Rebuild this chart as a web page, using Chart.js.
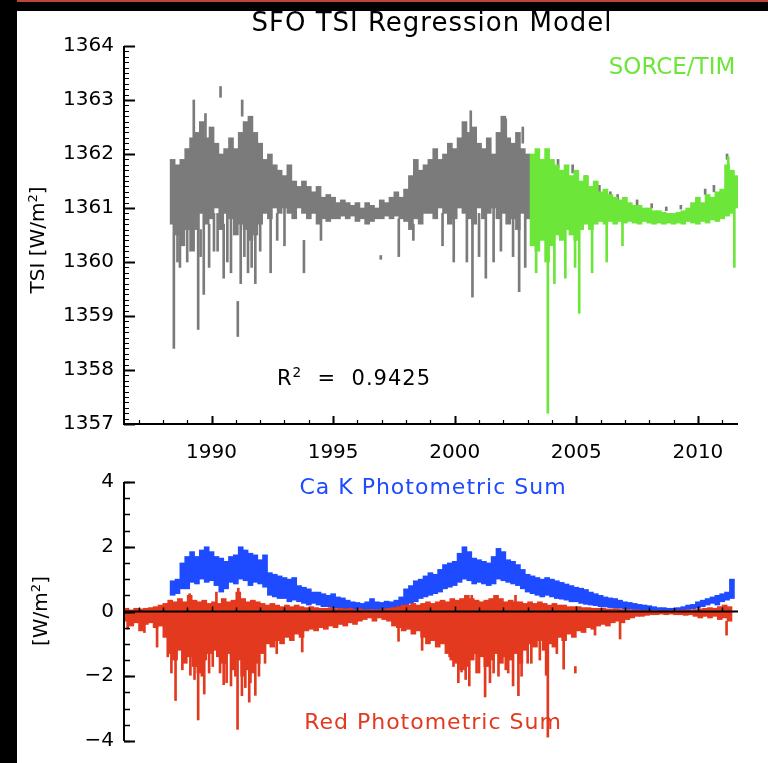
<!DOCTYPE html>
<html><head><meta charset="utf-8">
<script src="https://cdn.jsdelivr.net/npm/chart.js@4.4.1/dist/chart.umd.min.js"></script>
<style>
html,body{margin:0;padding:0;background:#fff;}
body{width:768px;height:763px;position:relative;overflow:hidden;font-family:'DejaVu Sans',sans-serif;color:#000;}
canvas{position:absolute;left:0;}
#c1{top:0;}
#c2{top:460px;}
.t{position:absolute;transform:translate(-50%,-50%);white-space:pre;line-height:1;}
.r{transform:translate(-50%,-50%) rotate(-90deg);}
sup{font-size:65%;vertical-align:0.55em;line-height:0;}
#redline{position:absolute;left:0;top:0;width:768px;height:2px;background:#c0443a;}
#topband{position:absolute;left:0;top:2px;width:768px;height:9px;background:#000;}
#leftband{position:absolute;left:0;top:0;width:17px;height:763px;background:#000;}
</style></head>
<body>
<canvas id="c1" width="768" height="470"></canvas>
<canvas id="c2" width="768" height="303"></canvas>
<div id="redline"></div><div id="topband"></div><div id="leftband"></div>
<div class="t" style="left:432px;top:22px;font-size:26px;letter-spacing:1px;">SFO TSI Regression Model</div>
<div class="t" style="left:672px;top:66px;font-size:23px;color:#6ce639;">SORCE/TIM</div>
<div class="t" style="left:354px;top:378px;font-size:21px;letter-spacing:1px;">R<sup>2</sup>  =  0.9425</div>
<div class="t r" style="left:37px;top:240px;font-size:20px;">TSI [W/m<sup>2</sup>]</div>
<div class="t r" style="left:40px;top:611px;font-size:20px;">[W/m<sup>2</sup>]</div>
<div class="t" style="left:433px;top:487px;font-size:22px;letter-spacing:1px;color:#1e4bff;">Ca K Photometric Sum</div>
<div class="t" style="left:433px;top:722px;font-size:22px;letter-spacing:1px;color:#e3391f;">Red Photometric Sum</div>
<script>
// ---------- axis ticks ----------
const yearTicks = [1990, 1995, 2000, 2005, 2010];
const tsiTicks = [1357, 1358, 1359, 1360, 1361, 1362, 1363, 1364];
const fluxTicks = [-4, -2, 0, 2, 4];

// ---------- SFO TSI regression model (gray), ranges per 0.2 yr ----------
const grayYears = [1988.4,1988.6,1988.8,1989.0,1989.2,1989.4,1989.6,1989.8,1990.0,1990.2,
1990.4,1990.6,1990.8,1991.0,1991.2,1991.4,1991.6,1991.8,1992.0,1992.2,
1992.4,1992.6,1992.8,1993.0,1993.2,1993.4,1993.6,1993.8,1994.0,1994.2,
1994.4,1994.6,1994.8,1995.0,1995.2,1995.4,1995.6,1995.8,1996.0,1996.2,
1996.4,1996.6,1996.8,1997.0,1997.2,1997.4,1997.6,1997.8,1998.0,1998.2,
1998.4,1998.6,1998.8,1999.0,1999.2,1999.4,1999.6,1999.8,2000.0,2000.2,
2000.4,2000.6,2000.8,2001.0,2001.2,2001.4,2001.6,2001.8,2002.0,2002.2,
2002.4,2002.6,2002.8,2003.0];
const grayLow = [1360.7,1360.5,1360.3,1360.6,1360.2,1360.6,1360.9,1360.7,1360.8,1361.0,
1360.6,1360.9,1360.8,1360.5,1360.7,1360.6,1360.4,1360.5,1360.7,1360.9,
1360.8,1361.0,1360.9,1361.0,1360.9,1360.8,1361.0,1360.9,1360.8,1360.9,
1360.7,1360.8,1360.75,1360.8,1360.8,1360.85,1360.8,1360.85,1360.75,1360.8,
1360.7,1360.75,1360.8,1360.8,1360.85,1360.8,1360.85,1360.8,1360.75,1360.6,
1360.8,1360.7,1360.9,1360.9,1360.8,1361.0,1360.9,1360.7,1360.8,1361.0,
1360.9,1360.8,1360.7,1361.0,1360.8,1360.9,1361.0,1360.8,1360.9,1360.7,
1360.8,1360.6,1360.9,1360.8];
const grayHigh = [1361.9,1361.8,1361.9,1362.1,1362.3,1362.4,1362.6,1362.3,1362.5,1362.2,
1362.0,1362.1,1362.3,1362.1,1362.4,1362.6,1362.7,1362.4,1362.2,1361.9,
1362.0,1361.8,1361.7,1361.6,1361.8,1361.5,1361.4,1361.5,1361.4,1361.3,
1361.4,1361.2,1361.25,1361.2,1361.1,1361.15,1361.1,1361.05,1361.1,1361.0,
1361.1,1361.05,1361.0,1361.15,1361.1,1361.2,1361.3,1361.2,1361.35,1361.6,
1361.9,1361.7,1361.8,1361.9,1362.1,1361.9,1362.0,1362.2,1362.1,1362.3,
1362.6,1362.4,1362.5,1362.2,1362.1,1362.3,1362.0,1362.4,1362.7,1362.3,
1362.2,1362.4,1362.1,1362.0];
// individual gray excursions [year, low, high]
const graySpikes = [[1988.45,1358.4,1360.7],[1988.6,1360.0,1360.5],[1988.7,1359.9,1360.6],[1989.0,1360.0,1360.6],
[1989.27,1361.6,1363.0],[1989.45,1358.75,1360.6],[1989.55,1360.1,1360.6],[1989.68,1359.4,1360.9],
[1989.75,1362.2,1362.75],[1989.9,1359.9,1360.7],[1990.1,1360.2,1360.9],[1990.25,1360.2,1360.9],
[1990.37,1363.05,1363.25],[1990.5,1359.7,1360.7],[1990.65,1360.0,1360.9],[1990.8,1359.8,1360.8],
[1991.08,1358.62,1359.27],[1991.2,1359.6,1360.7],[1991.26,1362.7,1363.0],[1991.35,1360.1,1360.6],
[1991.5,1359.8,1360.7],[1991.65,1359.9,1360.4],[1991.8,1359.6,1360.5],[1992.0,1360.2,1360.7],
[1992.43,1359.8,1360.9],[1992.7,1360.4,1360.9],[1993.0,1360.3,1361.0],[1993.8,1359.8,1360.4],
[1994.5,1360.4,1360.8],[1996.96,1360.05,1360.12],[1997.7,1360.1,1360.8],[1998.3,1360.4,1360.7],
[1999.5,1360.3,1360.9],[1999.96,1360.0,1360.8],[2000.5,1360.0,1360.9],[2000.66,1362.3,1362.8],
[2000.73,1359.35,1360.8],[2001.0,1360.1,1360.9],[2001.28,1359.7,1360.9],[2001.6,1360.0,1361.0],
[2001.9,1360.2,1360.9],[2002.1,1362.3,1362.65],[2002.4,1360.1,1360.8],[2002.65,1359.45,1360.6],
[2002.8,1362.2,1362.5],[2002.9,1359.9,1360.9],
[2003.6,1360.65,1360.75],[2004.25,1361.75,1361.9],[2004.85,1361.65,1361.8],[2005.4,1361.45,1361.6],
[2005.95,1361.3,1361.42],[2006.4,1361.2,1361.3],[2006.7,1361.15,1361.25],[2007.5,1361.05,1361.15],
[2008.1,1361.0,1361.08],[2008.7,1360.95,1361.02],[2009.3,1360.98,1361.05],[2010.3,1361.25,1361.35],
[2010.66,1361.3,1361.42],[2011.2,1361.9,1362.0],[2011.35,1361.4,1361.55]];

// ---------- SORCE/TIM (green) ----------
const greenYears = [2003.2,2003.4,2003.6,2003.8,2004.0,2004.2,2004.4,2004.6,2004.8,2005.0,
2005.2,2005.4,2005.6,2005.8,2006.0,2006.2,2006.4,2006.6,2006.8,2007.0,
2007.2,2007.4,2007.6,2007.8,2008.0,2008.2,2008.4,2008.6,2008.8,2009.0,
2009.2,2009.4,2009.6,2009.8,2010.0,2010.2,2010.4,2010.6,2010.8,2011.0,
2011.2,2011.4,2011.6];
const greenLow = [1360.3,1360.2,1360.4,1360.0,1360.3,1360.5,1360.4,1360.6,1360.5,1360.4,
1360.6,1360.7,1360.6,1360.7,1360.75,1360.7,1360.75,1360.7,1360.75,1360.72,
1360.75,1360.72,1360.7,1360.75,1360.72,1360.7,1360.72,1360.7,1360.72,1360.7,
1360.72,1360.7,1360.75,1360.72,1360.7,1360.75,1360.72,1360.78,1360.75,1360.8,
1360.85,1360.9,1361.0];
const greenHigh = [1362.0,1362.1,1361.9,1362.1,1361.9,1361.8,1361.7,1361.8,1361.6,1361.7,
1361.5,1361.6,1361.4,1361.5,1361.3,1361.35,1361.25,1361.2,1361.15,1361.2,
1361.1,1361.05,1361.05,1361.0,1361.0,1360.95,1360.95,1360.92,1360.9,1360.9,
1360.92,1360.95,1361.0,1361.1,1361.2,1361.1,1361.25,1361.2,1361.3,1361.35,
1361.8,1361.7,1361.6];
const greenSpikes = [[2003.35,1359.8,1360.5],[2003.83,1357.2,1360.3],[2004.1,1359.6,1360.5],
[2004.55,1359.7,1360.6],[2004.95,1359.9,1360.6],[2005.12,1359.05,1360.6],[2005.65,1359.8,1360.7],
[2006.25,1360.0,1360.8],[2006.9,1360.3,1360.8],[2011.25,1361.5,1361.95],[2011.5,1359.9,1361.2]];

// ---------- Ca K photometric sum (blue) ----------
const blueYears = [1988.4,1988.6,1988.8,1989.0,1989.2,1989.4,1989.6,1989.8,1990.0,1990.2,
1990.4,1990.6,1990.8,1991.0,1991.2,1991.4,1991.6,1991.8,1992.0,1992.2,
1992.4,1992.6,1992.8,1993.0,1993.2,1993.4,1993.6,1993.8,1994.0,1994.2,
1994.4,1994.6,1994.8,1995.0,1995.2,1995.4,1995.6,1995.8,1996.0,1996.2,
1996.4,1996.6,1996.8,1997.0,1997.2,1997.4,1997.6,1997.8,1998.0,1998.2,
1998.4,1998.6,1998.8,1999.0,1999.2,1999.4,1999.6,1999.8,2000.0,2000.2,
2000.4,2000.6,2000.8,2001.0,2001.2,2001.4,2001.6,2001.8,2002.0,2002.2,
2002.4,2002.6,2002.8,2003.0,2003.2,2003.4,2003.6,2003.8,2004.0,2004.2,
2004.4,2004.6,2004.8,2005.0,2005.2,2005.4,2005.6,2005.8,2006.0,2006.2,
2006.4,2006.6,2006.8,2007.0,2007.2,2007.4,2007.6,2007.8,2008.0,2008.2,
2008.4,2008.6,2008.8,2009.0,2009.2,2009.4,2009.6,2009.8,2010.0,2010.2,
2010.4,2010.6,2010.8,2011.0,2011.2,2011.4];
const blueLow = [0.5,0.55,0.7,0.7,0.9,0.85,1.0,0.9,0.95,0.8,
0.6,0.7,0.9,0.85,1.0,0.95,0.8,0.9,0.85,0.75,
0.5,0.45,0.4,0.4,0.3,0.35,0.3,0.25,0.2,0.25,
0.2,0.15,0.15,0.1,0.1,0.08,0.06,0.05,0.05,0.04,
0.05,0.06,0.05,0.06,0.07,0.08,0.1,0.12,0.15,0.25,
0.3,0.4,0.45,0.5,0.55,0.6,0.7,0.75,0.8,0.9,
1.0,0.95,0.85,0.9,0.85,0.8,0.85,1.0,0.95,0.9,
0.85,0.8,0.7,0.6,0.55,0.5,0.45,0.5,0.45,0.4,
0.38,0.35,0.3,0.3,0.25,0.22,0.2,0.18,0.15,0.14,
0.12,0.1,0.1,0.08,0.07,0.06,0.05,0.05,0.04,0.04,
0.03,0.03,0.03,0.03,0.04,0.05,0.06,0.08,0.1,0.15,
0.2,0.25,0.2,0.3,0.35,0.4];
const blueHigh = [0.95,1.0,1.5,1.7,1.85,1.7,1.9,2.0,1.85,1.7,
1.65,1.55,1.7,1.75,2.0,1.9,1.8,1.75,1.6,1.75,
1.2,1.15,1.1,1.05,1.0,1.05,0.8,0.75,0.7,0.6,
0.6,0.55,0.5,0.55,0.45,0.42,0.35,0.3,0.28,0.25,
0.3,0.4,0.3,0.28,0.32,0.3,0.35,0.45,0.7,0.8,
0.95,1.0,1.1,1.2,1.15,1.3,1.45,1.5,1.55,1.8,
2.0,1.85,1.65,1.6,1.55,1.5,1.7,1.95,1.85,1.6,
1.55,1.45,1.3,1.15,1.1,1.05,1.0,1.05,1.0,0.95,
0.9,0.85,0.8,0.75,0.72,0.68,0.6,0.55,0.5,0.45,
0.42,0.4,0.35,0.3,0.28,0.25,0.22,0.2,0.18,0.15,
0.12,0.12,0.1,0.1,0.12,0.15,0.2,0.22,0.3,0.35,
0.4,0.45,0.5,0.55,0.6,1.0];

// ---------- Red photometric sum (red) ----------
const redYears = [1986.5,1986.7,1986.9,1987.1,1987.3,1987.5,1987.7,1987.9,1988.1,1988.3,
1988.5,1988.7,1988.9,1989.1,1989.3,1989.5,1989.7,1989.9,1990.1,1990.3,
1990.5,1990.7,1990.9,1991.1,1991.3,1991.5,1991.7,1991.9,1992.1,1992.3,
1992.5,1992.7,1992.9,1993.1,1993.3,1993.5,1993.7,1993.9,1994.1,1994.3,
1994.5,1994.7,1994.9,1995.1,1995.3,1995.5,1995.7,1995.9,1996.1,1996.3,
1996.5,1996.7,1996.9,1997.1,1997.3,1997.5,1997.7,1997.9,1998.1,1998.3,
1998.5,1998.7,1998.9,1999.1,1999.3,1999.5,1999.7,1999.9,2000.1,2000.3,
2000.5,2000.7,2000.9,2001.1,2001.3,2001.5,2001.7,2001.9,2002.1,2002.3,
2002.5,2002.7,2002.9,2003.1,2003.3,2003.5,2003.7,2003.9,2004.1,2004.3,
2004.5,2004.7,2004.9,2005.1,2005.3,2005.5,2005.7,2005.9,2006.1,2006.3,
2006.5,2006.7,2006.9,2007.1,2007.3,2007.5,2007.7,2007.9,2008.1,2008.3,
2008.5,2008.7,2008.9,2009.1,2009.3,2009.5,2009.7,2009.9,2010.1,2010.3,
2010.5,2010.7,2010.9,2011.1,2011.3];
const redLow = [-0.3,-0.45,-0.35,-0.6,-0.4,-0.35,-0.5,-0.45,-0.8,-1.3,
-1.5,-1.2,-1.6,-1.4,-1.7,-1.9,-1.5,-1.3,-1.2,-1.4,
-1.6,-1.3,-1.8,-1.5,-2.0,-1.8,-1.9,-1.6,-1.3,-1.0,
-1.1,-0.9,-1.0,-0.8,-0.9,-0.7,-0.8,-0.6,-0.55,-0.6,
-0.5,-0.55,-0.45,-0.5,-0.4,-0.45,-0.35,-0.4,-0.3,-0.25,
-0.2,-0.3,-0.2,-0.25,-0.3,-0.45,-0.5,-0.6,-0.55,-0.7,
-0.6,-0.8,-1.0,-0.9,-1.1,-1.0,-1.3,-1.5,-1.6,-1.8,
-1.7,-1.5,-1.3,-1.4,-1.7,-1.5,-1.3,-1.6,-1.4,-1.5,
-1.3,-1.6,-1.2,-1.0,-1.1,-0.9,-1.2,-1.0,-1.1,-0.8,
-0.9,-0.7,-0.8,-0.6,-0.65,-0.5,-0.55,-0.45,-0.4,-0.45,
-0.35,-0.3,-0.35,-0.25,-0.2,-0.15,-0.15,-0.12,-0.1,-0.1,
-0.08,-0.1,-0.08,-0.1,-0.1,-0.12,-0.1,-0.15,-0.2,-0.15,
-0.2,-0.15,-0.25,-0.2,-0.3];
const redHigh = [0.1,0.05,0.1,0.08,0.1,0.12,0.15,0.2,0.25,0.35,
0.3,0.4,0.3,0.5,0.35,0.3,0.35,0.25,0.3,0.25,
0.4,0.3,0.35,0.6,0.4,0.3,0.35,0.3,0.25,0.2,
0.25,0.2,0.15,0.2,0.15,0.2,0.15,0.12,0.15,0.12,
0.1,0.1,0.12,0.08,0.1,0.08,0.1,0.06,0.08,0.05,
0.06,0.05,0.06,0.08,0.1,0.12,0.15,0.2,0.2,0.25,
0.2,0.25,0.3,0.25,0.3,0.35,0.3,0.4,0.35,0.4,
0.5,0.4,0.35,0.3,0.35,0.4,0.5,0.4,0.3,0.35,
0.3,0.3,0.25,0.3,0.25,0.3,0.25,0.2,0.25,0.2,
0.2,0.15,0.15,0.15,0.12,0.12,0.1,0.1,0.1,0.08,
0.08,0.08,0.06,0.06,0.05,0.05,0.04,0.04,0.03,0.03,
0.03,0.03,0.03,0.04,0.04,0.05,0.05,0.06,0.08,0.1,
0.12,0.1,0.15,0.2,0.15];
const redSpikes = [[1986.55,-0.55,0],[1987.24,-0.65,0],[1987.76,-1.1,0],[1988.2,-1.4,0],[1988.35,-1.9,0],
[1988.52,-2.75,0],[1988.8,-1.8,0],[1989.13,-1.97,0],[1989.1,0,0.55],[1989.3,-2.1,0],[1989.45,-3.35,0],
[1989.6,-2.0,0],[1989.7,-2.55,0],[1989.9,-1.9,0],[1990.05,-1.7,0],[1990.2,0,0.6],[1990.35,-1.9,0],
[1990.5,-2.26,0],[1990.62,-2.2,0],[1990.8,-2.3,0],[1990.98,-2.0,0],[1991.07,-3.64,0],[1991.1,0,0.72],
[1991.25,-2.6,0],[1991.39,-2.35,0],[1991.55,-2.8,0],[1991.6,-2.2,0],[1991.8,-2.59,0],[1991.95,-2.0,0],
[1992.2,-1.6,0],[1992.68,-1.3,0],[1993.73,-1.25,0],[1997.69,-0.92,0],[1998.66,-1.2,0],
[1999.79,-1.4,0],[1999.95,-1.7,0],[2000.15,-2.2,0],[2000.28,-1.87,0],[2000.45,-2.1,0],[2000.6,-2.3,0],
[2000.7,0,0.5],[2000.9,-1.9,0],[2001.0,-1.9,0],[2001.25,-2.64,0],[2001.45,-2.2,0],[2001.6,-1.9,0],
[2001.8,-2.0,0],[2002.1,-1.8,0],[2002.2,-1.9,0],[2002.4,-2.3,0],[2002.5,0,0.5],[2002.62,-2.6,0],
[2002.75,-2.0,0],[2003.0,-1.6,0],[2003.15,-1.6,0],[2003.5,-1.5,0],[2003.76,-1.97,0],[2003.83,-3.88,0],
[2004.2,-1.3,0],[2004.48,-1.78,0],[2004.96,-1.9,-1.7],[2005.77,-0.73,0],[2006.8,-0.85,0],[2011.18,-0.73,-0.3]];

// ---------- helpers ----------
const bars = (xs, lo, hi) => xs.map((x, i) => ({x: x, y: [lo[i], hi[i]]}));
const spikes = list => list.map(s => ({x: s[0], y: [s[1], s[2]]}));
const FONT = {family: "'DejaVu Sans', sans-serif", size: 20};
const X_MIN = 1986.4, X_MAX = 2011.65;

function inwardTicks(ctx, scale, area, values, len, vertical) {
  ctx.beginPath();
  values.forEach(v => {
    const p = Math.round(scale.getPixelForValue(v)) + 0.5;
    if (vertical) { ctx.moveTo(area.left, p); ctx.lineTo(area.left + len, p); }
    else { ctx.moveTo(p, area.bottom); ctx.lineTo(p, area.bottom - len); }
  });
  ctx.stroke();
}
function range(a, b, step) { const r = []; for (let v = a; v <= b + 1e-9; v += step) r.push(+v.toFixed(3)); return r; }

const axesTop = {
  id: 'axesTop',
  afterDraw(chart) {
    const {ctx, chartArea: a, scales: {x, y}} = chart;
    ctx.save();
    ctx.strokeStyle = '#000'; ctx.lineWidth = 1.2;
    inwardTicks(ctx, y, a, range(1357, 1364, 0.1), 5, true);
    inwardTicks(ctx, x, a, range(1987, 2011, 1), 4, false);
    ctx.lineWidth = 2;
    inwardTicks(ctx, y, a, tsiTicks, 11, true);
    inwardTicks(ctx, x, a, yearTicks, 8, false);
    ctx.beginPath();
    ctx.moveTo(a.left, a.top); ctx.lineTo(a.left, a.bottom); ctx.lineTo(a.right, a.bottom);
    ctx.stroke();
    ctx.restore();
  }
};
const axesBottom = {
  id: 'axesBottom',
  afterDraw(chart) {
    const {ctx, chartArea: a, scales: {x, y}} = chart;
    ctx.save();
    ctx.strokeStyle = '#000'; ctx.lineWidth = 1.5;
    inwardTicks(ctx, y, a, range(-4, 4, 0.5), 6, true);
    ctx.lineWidth = 2;
    inwardTicks(ctx, y, a, fluxTicks, 11, true);
    ctx.beginPath(); ctx.moveTo(a.left, a.top); ctx.lineTo(a.left, a.bottom); ctx.stroke();
    const z = y.getPixelForValue(0);
    ctx.beginPath(); ctx.moveTo(a.left, z); ctx.lineTo(a.right, z); ctx.stroke();
    ctx.lineWidth = 1.5;
    ctx.beginPath();
    range(1987, 2011, 1).forEach(v => { const p = Math.round(x.getPixelForValue(v)) + 0.5; ctx.moveTo(p, z); ctx.lineTo(p, z - (v % 5 === 0 ? 5 : 4)); });
    ctx.stroke();
    ctx.restore();
  }
};

const common = {
  responsive: false, animation: false, devicePixelRatio: 1,
  plugins: {legend: {display: false}, tooltip: {enabled: false}},
  datasets: {bar: {grouped: false, borderWidth: 0}}
};

new Chart(document.getElementById('c1'), {
  type: 'bar',
  data: {datasets: [
    {data: bars(greenYears, greenLow, greenHigh), backgroundColor: '#6ce639', barThickness: 5, order: 0},
    {data: spikes(greenSpikes), backgroundColor: '#6ce639', barThickness: 2, order: 1},
    {data: bars(grayYears, grayLow, grayHigh), backgroundColor: '#7b7b7b', barThickness: 5, order: 3},
    {data: spikes(graySpikes), backgroundColor: '#7b7b7b', barThickness: 2, order: 2}
  ]},
  options: Object.assign({}, common, {
    layout: {padding: {left: 0, right: 30, top: 46, bottom: 0}},
    scales: {
      x: {type: 'linear', min: X_MIN, max: X_MAX, offset: false,
          grid: {display: false, drawTicks: false}, border: {display: false},
          afterBuildTicks: s => { s.ticks = yearTicks.map(v => ({value: v})); },
          afterFit: s => { s.height = 46; },
          ticks: {color: '#000', font: FONT, padding: 17, maxRotation: 0, autoSkip: false, callback: v => String(v)}},
      y: {type: 'linear', min: 1357, max: 1364,
          grid: {display: false, drawTicks: false}, border: {display: false},
          afterBuildTicks: s => { s.ticks = tsiTicks.map(v => ({value: v})); },
          afterFit: s => { s.width = 124; },
          ticks: {color: '#000', font: FONT, padding: 10, callback: v => String(v)}}
    }
  }),
  plugins: [axesTop]
});

new Chart(document.getElementById('c2'), {
  type: 'bar',
  data: {datasets: [
    {data: bars(redYears, redLow, redHigh), backgroundColor: '#e3391f', barThickness: 5, order: 0},
    {data: spikes(redSpikes), backgroundColor: '#e3391f', barThickness: 2, order: 1},
    {data: bars(blueYears, blueLow, blueHigh), backgroundColor: '#1e4bff', barThickness: 5, order: 2}
  ]},
  options: Object.assign({}, common, {
    layout: {padding: {left: 0, right: 30, top: 11, bottom: 12}},
    scales: {
      x: {type: 'linear', min: X_MIN, max: X_MAX, offset: false, display: false},
      y: {type: 'linear', min: -4, max: 4,
          grid: {display: false, drawTicks: false}, border: {display: false},
          afterBuildTicks: s => { s.ticks = fluxTicks.map(v => ({value: v})); },
          afterFit: s => { s.width = 124; },
          ticks: {color: '#000', font: FONT, padding: 10, callback: v => (v < 0 ? '\u2212' + Math.abs(v) : String(v))}}
    }
  }),
  plugins: [axesBottom]
});
</script>
</body></html>
